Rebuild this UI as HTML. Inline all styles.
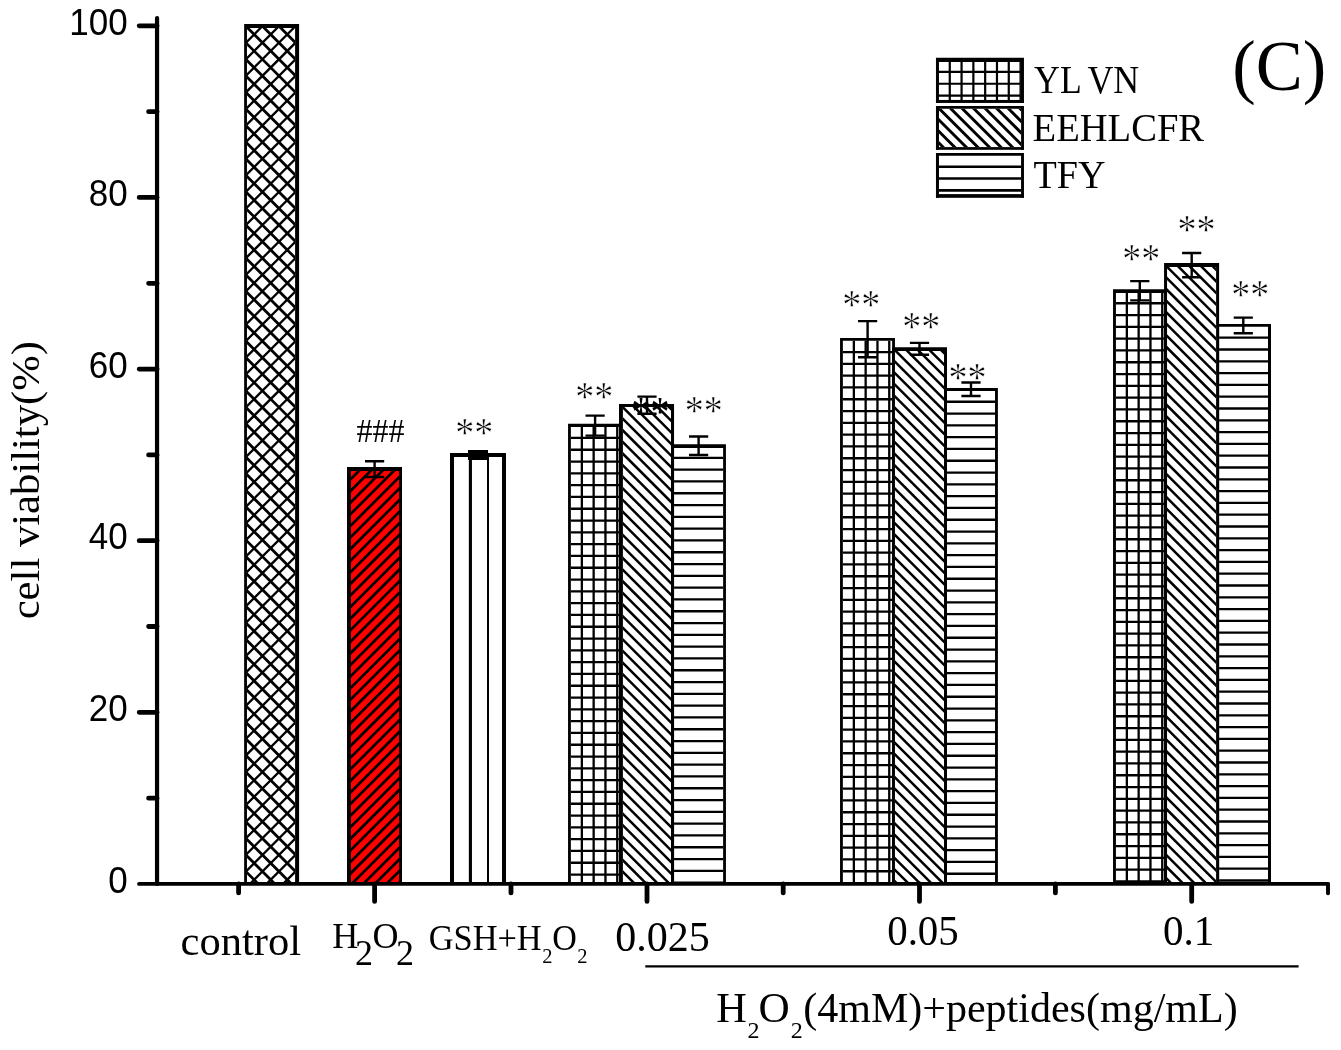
<!DOCTYPE html>
<html lang="en"><head><meta charset="utf-8"><title>Cell viability (C)</title>
<style>html,body{margin:0;padding:0;background:#fff}svg{display:block;will-change:transform}text{fill:#000;font-kerning:none}</style>
</head><body>
<svg width="1341" height="1050" viewBox="0 0 1341 1050"><defs><clipPath id="c1"><rect x="246.95" y="27.90" width="48.15" height="856.05"/></clipPath><clipPath id="c2"><rect x="350.90" y="470.90" width="48.20" height="413.05"/></clipPath><clipPath id="c3"><rect x="454.00" y="457.00" width="48.00" height="426.95"/></clipPath><clipPath id="c4"><rect x="570.86" y="426.97" width="48.14" height="456.98"/></clipPath><clipPath id="c5"><rect x="674.05" y="447.90" width="49.08" height="436.05"/></clipPath><clipPath id="c6"><rect x="622.90" y="407.10" width="48.10" height="476.85"/></clipPath><clipPath id="c7"><rect x="842.86" y="340.86" width="49.28" height="543.09"/></clipPath><clipPath id="c8"><rect x="947.00" y="391.00" width="48.03" height="492.95"/></clipPath><clipPath id="c9"><rect x="894.95" y="350.96" width="49.07" height="532.99"/></clipPath><clipPath id="c10"><rect x="1115.92" y="292.89" width="48.15" height="591.06"/></clipPath><clipPath id="c11"><rect x="1219.10" y="326.70" width="48.90" height="557.25"/></clipPath><clipPath id="c12"><rect x="1167.05" y="266.93" width="49.05" height="617.02"/></clipPath><clipPath id="c13"><rect x="938.97" y="61.93" width="81.09" height="38.02"/></clipPath><clipPath id="c14"><rect x="938.97" y="108.82" width="82.14" height="38.28"/></clipPath><clipPath id="c15"><rect x="938.97" y="155.87" width="82.09" height="38.24"/></clipPath></defs>
<rect x="245.95" y="26.90" width="50.15" height="857.05" fill="#fff"/>
<path clip-path="url(#c1)" d="M239.15 -63.42L304.10 1.53M239.15 -46.85L304.10 18.10M239.15 -30.27L304.10 34.68M239.15 -13.70L304.10 51.25M239.15 2.88L304.10 67.83M239.15 19.45L304.10 84.40M239.15 36.03L304.10 100.98M239.15 52.60L304.10 117.55M239.15 69.18L304.10 134.13M239.15 85.75L304.10 150.70M239.15 102.33L304.10 167.28M239.15 118.90L304.10 183.85M239.15 135.48L304.10 200.43M239.15 152.05L304.10 217.00M239.15 168.62L304.10 233.58M239.15 185.20L304.10 250.15M239.15 201.78L304.10 266.73M239.15 218.35L304.10 283.30M239.15 234.93L304.10 299.88M239.15 251.50L304.10 316.45M239.15 268.08L304.10 333.03M239.15 284.65L304.10 349.60M239.15 301.23L304.10 366.18M239.15 317.80L304.10 382.75M239.15 334.38L304.10 399.33M239.15 350.95L304.10 415.90M239.15 367.52L304.10 432.48M239.15 384.10L304.10 449.05M239.15 400.67L304.10 465.62M239.15 417.25L304.10 482.20M239.15 433.83L304.10 498.78M239.15 450.40L304.10 515.35M239.15 466.98L304.10 531.92M239.15 483.55L304.10 548.50M239.15 500.12L304.10 565.08M239.15 516.70L304.10 581.65M239.15 533.27L304.10 598.22M239.15 549.85L304.10 614.80M239.15 566.43L304.10 631.38M239.15 583.00L304.10 647.95M239.15 599.58L304.10 664.53M239.15 616.15L304.10 681.10M239.15 632.73L304.10 697.67M239.15 649.30L304.10 714.25M239.15 665.88L304.10 730.83M239.15 682.45L304.10 747.40M239.15 699.02L304.10 763.97M239.15 715.60L304.10 780.55M239.15 732.18L304.10 797.12M239.15 748.75L304.10 813.70M239.15 765.32L304.10 830.27M239.15 781.90L304.10 846.85M239.15 798.48L304.10 863.43M239.15 815.05L304.10 880.00M239.15 831.62L304.10 896.57M239.15 848.20L304.10 913.15M239.15 864.77L304.10 929.73M239.15 881.35L304.10 946.30" stroke="#000" stroke-width="2.80" fill="none"/>
<path clip-path="url(#c1)" d="M239.15 -0.35L304.10 -65.30M239.15 16.22L304.10 -48.73M239.15 32.80L304.10 -32.15M239.15 49.37L304.10 -15.58M239.15 65.95L304.10 1.00M239.15 82.52L304.10 17.57M239.15 99.10L304.10 34.15M239.15 115.67L304.10 50.72M239.15 132.25L304.10 67.30M239.15 148.82L304.10 83.87M239.15 165.40L304.10 100.45M239.15 181.97L304.10 117.02M239.15 198.55L304.10 133.60M239.15 215.12L304.10 150.17M239.15 231.70L304.10 166.75M239.15 248.27L304.10 183.32M239.15 264.85L304.10 199.90M239.15 281.43L304.10 216.48M239.15 298.00L304.10 233.05M239.15 314.57L304.10 249.62M239.15 331.15L304.10 266.20M239.15 347.73L304.10 282.77M239.15 364.30L304.10 299.35M239.15 380.88L304.10 315.92M239.15 397.45L304.10 332.50M239.15 414.02L304.10 349.07M239.15 430.60L304.10 365.65M239.15 447.18L304.10 382.23M239.15 463.75L304.10 398.80M239.15 480.32L304.10 415.37M239.15 496.90L304.10 431.95M239.15 513.48L304.10 448.52M239.15 530.05L304.10 465.10M239.15 546.62L304.10 481.67M239.15 563.20L304.10 498.25M239.15 579.77L304.10 514.82M239.15 596.35L304.10 531.40M239.15 612.93L304.10 547.98M239.15 629.50L304.10 564.55M239.15 646.07L304.10 581.12M239.15 662.65L304.10 597.70M239.15 679.23L304.10 614.27M239.15 695.80L304.10 630.85M239.15 712.37L304.10 647.42M239.15 728.95L304.10 664.00M239.15 745.52L304.10 680.57M239.15 762.10L304.10 697.15M239.15 778.68L304.10 713.73M239.15 795.25L304.10 730.30M239.15 811.82L304.10 746.87M239.15 828.40L304.10 763.45M239.15 844.98L304.10 780.02M239.15 861.55L304.10 796.60M239.15 878.12L304.10 813.17M239.15 894.70L304.10 829.75M239.15 911.27L304.10 846.32M239.15 927.85L304.10 862.90M239.15 944.43L304.10 879.48" stroke="#000" stroke-width="2.30" fill="none"/>
<path d="M244.15 883.95H246.95V27.90H295.10V883.95H299.10V23.90H244.15Z" fill="#000"/>
<rect x="349.90" y="469.90" width="50.20" height="414.05" fill="#ff0000"/>
<path clip-path="url(#c2)" d="M342.00 453.16L407.00 388.16M342.00 464.75L407.00 399.75M342.00 476.34L407.00 411.34M342.00 487.93L407.00 422.93M342.00 499.52L407.00 434.52M342.00 511.11L407.00 446.11M342.00 522.70L407.00 457.70M342.00 534.29L407.00 469.29M342.00 545.88L407.00 480.88M342.00 557.47L407.00 492.47M342.00 569.06L407.00 504.06M342.00 580.65L407.00 515.65M342.00 592.24L407.00 527.24M342.00 603.83L407.00 538.83M342.00 615.42L407.00 550.42M342.00 627.01L407.00 562.01M342.00 638.60L407.00 573.60M342.00 650.19L407.00 585.19M342.00 661.78L407.00 596.78M342.00 673.37L407.00 608.37M342.00 684.96L407.00 619.96M342.00 696.55L407.00 631.55M342.00 708.14L407.00 643.14M342.00 719.73L407.00 654.73M342.00 731.32L407.00 666.32M342.00 742.91L407.00 677.91M342.00 754.50L407.00 689.50M342.00 766.09L407.00 701.09M342.00 777.68L407.00 712.68M342.00 789.27L407.00 724.27M342.00 800.86L407.00 735.86M342.00 812.45L407.00 747.45M342.00 824.04L407.00 759.04M342.00 835.63L407.00 770.63M342.00 847.22L407.00 782.22M342.00 858.81L407.00 793.81M342.00 870.40L407.00 805.40M342.00 881.99L407.00 816.99M342.00 893.58L407.00 828.58M342.00 905.17L407.00 840.17M342.00 916.76L407.00 851.76M342.00 928.35L407.00 863.35M342.00 939.94L407.00 874.94M342.00 951.53L407.00 886.53" stroke="#000" stroke-width="2.70" fill="none"/>
<path d="M347.00 883.95H350.90V470.90H399.10V883.95H402.00V466.90H347.00Z" fill="#000"/>
<rect x="453.00" y="456.00" width="50.00" height="427.95" fill="#fff"/>
<path clip-path="url(#c3)" d="M470.40 453.00V883.95" stroke="#000" stroke-width="3.10" fill="none"/>
<path clip-path="url(#c3)" d="M488.00 453.00V883.95" stroke="#000" stroke-width="2.00" fill="none"/>
<path d="M450.00 883.95H454.00V457.00H502.00V883.95H506.00V453.00H450.00Z" fill="#000"/>
<rect x="569.86" y="425.97" width="50.14" height="457.98" fill="#fff"/>
<path clip-path="url(#c4)" d="M568.05 437.97H622.90M568.05 449.77H622.90M568.05 461.57H622.90M568.05 473.37H622.90M568.05 485.17H622.90M568.05 496.97H622.90M568.05 508.77H622.90M568.05 520.57H622.90M568.05 532.37H622.90M568.05 544.17H622.90M568.05 555.97H622.90M568.05 567.77H622.90M568.05 579.57H622.90M568.05 591.37H622.90M568.05 603.17H622.90M568.05 614.97H622.90M568.05 626.77H622.90M568.05 638.57H622.90M568.05 650.37H622.90M568.05 662.17H622.90M568.05 673.97H622.90M568.05 685.77H622.90M568.05 697.57H622.90M568.05 709.37H622.90M568.05 721.17H622.90M568.05 732.97H622.90M568.05 744.77H622.90M568.05 756.57H622.90M568.05 768.37H622.90M568.05 780.17H622.90M568.05 791.97H622.90M568.05 803.77H622.90M568.05 815.57H622.90M568.05 827.37H622.90M568.05 839.17H622.90M568.05 850.97H622.90M568.05 862.77H622.90M568.05 874.57H622.90M581.85 423.87V883.95M593.65 423.87V883.95M605.45 423.87V883.95M617.25 423.87V883.95" stroke="#000" stroke-width="2.30" fill="none"/>
<path d="M568.05 883.95H570.86V426.97H619.00V883.95H622.90V423.87H568.05Z" fill="#000"/>
<rect x="673.05" y="446.90" width="51.08" height="437.05" fill="#fff"/>
<path clip-path="url(#c5)" d="M671.00 457.84H725.93M671.00 469.64H725.93M671.00 481.44H725.93M671.00 493.24H725.93M671.00 505.04H725.93M671.00 516.84H725.93M671.00 528.64H725.93M671.00 540.44H725.93M671.00 552.24H725.93M671.00 564.04H725.93M671.00 575.84H725.93M671.00 587.64H725.93M671.00 599.44H725.93M671.00 611.24H725.93M671.00 623.04H725.93M671.00 634.84H725.93M671.00 646.64H725.93M671.00 658.44H725.93M671.00 670.24H725.93M671.00 682.04H725.93M671.00 693.84H725.93M671.00 705.64H725.93M671.00 717.44H725.93M671.00 729.24H725.93M671.00 741.04H725.93M671.00 752.84H725.93M671.00 764.64H725.93M671.00 776.44H725.93M671.00 788.24H725.93M671.00 800.04H725.93M671.00 811.84H725.93M671.00 823.64H725.93M671.00 835.44H725.93M671.00 847.24H725.93M671.00 859.04H725.93M671.00 870.84H725.93M671.00 882.64H725.93" stroke="#000" stroke-width="2.30" fill="none"/>
<path d="M671.00 883.95H674.05V447.90H723.13V883.95H725.93V444.14H671.00Z" fill="#000"/>
<rect x="621.90" y="406.10" width="50.10" height="477.85" fill="#fff"/>
<path clip-path="url(#c6)" d="M614.00 328.71L679.05 393.76M614.00 340.33L679.05 405.38M614.00 351.94L679.05 416.99M614.00 363.56L679.05 428.61M614.00 375.17L679.05 440.22M614.00 386.79L679.05 451.83M614.00 398.40L679.05 463.45M614.00 410.02L679.05 475.06M614.00 421.63L679.05 486.68M614.00 433.25L679.05 498.29M614.00 444.86L679.05 509.91M614.00 456.48L679.05 521.52M614.00 468.09L679.05 533.14M614.00 479.71L679.05 544.75M614.00 491.32L679.05 556.37M614.00 502.94L679.05 567.99M614.00 514.55L679.05 579.60M614.00 526.17L679.05 591.22M614.00 537.78L679.05 602.83M614.00 549.39L679.05 614.44M614.00 561.01L679.05 626.06M614.00 572.62L679.05 637.67M614.00 584.24L679.05 649.29M614.00 595.86L679.05 660.90M614.00 607.47L679.05 672.52M614.00 619.09L679.05 684.13M614.00 630.70L679.05 695.75M614.00 642.32L679.05 707.37M614.00 653.93L679.05 718.98M614.00 665.55L679.05 730.60M614.00 677.16L679.05 742.21M614.00 688.78L679.05 753.83M614.00 700.39L679.05 765.44M614.00 712.01L679.05 777.06M614.00 723.62L679.05 788.67M614.00 735.24L679.05 800.28M614.00 746.85L679.05 811.90M614.00 758.47L679.05 823.51M614.00 770.08L679.05 835.13M614.00 781.70L679.05 846.75M614.00 793.31L679.05 858.36M614.00 804.93L679.05 869.98M614.00 816.54L679.05 881.59M614.00 828.15L679.05 893.20M614.00 839.77L679.05 904.82M614.00 851.38L679.05 916.43M614.00 863.00L679.05 928.05M614.00 874.62L679.05 939.66M614.00 886.23L679.05 951.28" stroke="#000" stroke-width="2.50" fill="none"/>
<path d="M619.00 883.95H622.90V407.10H671.00V883.95H674.05V404.10H619.00Z" fill="#000"/>
<rect x="841.86" y="339.86" width="51.28" height="544.09" fill="#fff"/>
<path clip-path="url(#c7)" d="M840.05 352.04H894.95M840.05 363.84H894.95M840.05 375.64H894.95M840.05 387.44H894.95M840.05 399.24H894.95M840.05 411.04H894.95M840.05 422.84H894.95M840.05 434.64H894.95M840.05 446.44H894.95M840.05 458.24H894.95M840.05 470.04H894.95M840.05 481.84H894.95M840.05 493.64H894.95M840.05 505.44H894.95M840.05 517.24H894.95M840.05 529.04H894.95M840.05 540.84H894.95M840.05 552.64H894.95M840.05 564.44H894.95M840.05 576.24H894.95M840.05 588.04H894.95M840.05 599.84H894.95M840.05 611.64H894.95M840.05 623.44H894.95M840.05 635.24H894.95M840.05 647.04H894.95M840.05 658.84H894.95M840.05 670.64H894.95M840.05 682.44H894.95M840.05 694.24H894.95M840.05 706.04H894.95M840.05 717.84H894.95M840.05 729.64H894.95M840.05 741.44H894.95M840.05 753.24H894.95M840.05 765.04H894.95M840.05 776.84H894.95M840.05 788.64H894.95M840.05 800.44H894.95M840.05 812.24H894.95M840.05 824.04H894.95M840.05 835.84H894.95M840.05 847.64H894.95M840.05 859.44H894.95M840.05 871.24H894.95M853.85 337.94V883.95M865.65 337.94V883.95M877.45 337.94V883.95M889.25 337.94V883.95" stroke="#000" stroke-width="2.30" fill="none"/>
<path d="M840.05 883.95H842.86V340.86H892.14V883.95H894.95V337.94H840.05Z" fill="#000"/>
<rect x="946.00" y="390.00" width="50.03" height="493.95" fill="#fff"/>
<path clip-path="url(#c8)" d="M944.02 401.73H997.90M944.02 413.53H997.90M944.02 425.33H997.90M944.02 437.13H997.90M944.02 448.93H997.90M944.02 460.73H997.90M944.02 472.53H997.90M944.02 484.33H997.90M944.02 496.13H997.90M944.02 507.93H997.90M944.02 519.73H997.90M944.02 531.53H997.90M944.02 543.33H997.90M944.02 555.13H997.90M944.02 566.93H997.90M944.02 578.73H997.90M944.02 590.53H997.90M944.02 602.33H997.90M944.02 614.13H997.90M944.02 625.93H997.90M944.02 637.73H997.90M944.02 649.53H997.90M944.02 661.33H997.90M944.02 673.13H997.90M944.02 684.93H997.90M944.02 696.73H997.90M944.02 708.53H997.90M944.02 720.33H997.90M944.02 732.13H997.90M944.02 743.93H997.90M944.02 755.73H997.90M944.02 767.53H997.90M944.02 779.33H997.90M944.02 791.13H997.90M944.02 802.93H997.90M944.02 814.73H997.90M944.02 826.53H997.90M944.02 838.33H997.90M944.02 850.13H997.90M944.02 861.93H997.90M944.02 873.73H997.90" stroke="#000" stroke-width="2.30" fill="none"/>
<path d="M944.02 883.95H947.00V391.00H995.03V883.95H997.90V388.03H944.02Z" fill="#000"/>
<rect x="893.95" y="349.96" width="51.07" height="533.99" fill="#fff"/>
<path clip-path="url(#c9)" d="M887.14 273.04L952.00 337.90M887.14 284.59L952.00 349.45M887.14 296.14L952.00 361.00M887.14 307.69L952.00 372.55M887.14 319.24L952.00 384.10M887.14 330.79L952.00 395.65M887.14 342.34L952.00 407.20M887.14 353.89L952.00 418.75M887.14 365.44L952.00 430.30M887.14 376.99L952.00 441.85M887.14 388.54L952.00 453.40M887.14 400.09L952.00 464.95M887.14 411.64L952.00 476.50M887.14 423.19L952.00 488.05M887.14 434.74L952.00 499.60M887.14 446.29L952.00 511.15M887.14 457.84L952.00 522.70M887.14 469.39L952.00 534.25M887.14 480.94L952.00 545.80M887.14 492.49L952.00 557.35M887.14 504.04L952.00 568.90M887.14 515.59L952.00 580.45M887.14 527.14L952.00 592.00M887.14 538.69L952.00 603.55M887.14 550.24L952.00 615.10M887.14 561.79L952.00 626.65M887.14 573.34L952.00 638.20M887.14 584.89L952.00 649.75M887.14 596.44L952.00 661.30M887.14 607.99L952.00 672.85M887.14 619.54L952.00 684.40M887.14 631.09L952.00 695.95M887.14 642.64L952.00 707.50M887.14 654.19L952.00 719.05M887.14 665.74L952.00 730.60M887.14 677.29L952.00 742.15M887.14 688.84L952.00 753.70M887.14 700.39L952.00 765.25M887.14 711.94L952.00 776.80M887.14 723.49L952.00 788.35M887.14 735.04L952.00 799.90M887.14 746.59L952.00 811.45M887.14 758.14L952.00 823.00M887.14 769.69L952.00 834.55M887.14 781.24L952.00 846.10M887.14 792.79L952.00 857.65M887.14 804.34L952.00 869.20M887.14 815.89L952.00 880.75M887.14 827.44L952.00 892.30M887.14 838.99L952.00 903.85M887.14 850.54L952.00 915.40M887.14 862.09L952.00 926.95M887.14 873.64L952.00 938.50M887.14 885.19L952.00 950.05" stroke="#000" stroke-width="2.50" fill="none"/>
<path d="M892.14 883.95H894.95V350.96H944.02V883.95H947.00V347.14H892.14Z" fill="#000"/>
<rect x="1114.92" y="291.89" width="50.15" height="592.06" fill="#fff"/>
<path clip-path="url(#c10)" d="M1113.05 303.23H1167.05M1113.05 315.03H1167.05M1113.05 326.83H1167.05M1113.05 338.63H1167.05M1113.05 350.43H1167.05M1113.05 362.23H1167.05M1113.05 374.03H1167.05M1113.05 385.83H1167.05M1113.05 397.63H1167.05M1113.05 409.43H1167.05M1113.05 421.23H1167.05M1113.05 433.03H1167.05M1113.05 444.83H1167.05M1113.05 456.63H1167.05M1113.05 468.43H1167.05M1113.05 480.23H1167.05M1113.05 492.03H1167.05M1113.05 503.83H1167.05M1113.05 515.63H1167.05M1113.05 527.43H1167.05M1113.05 539.23H1167.05M1113.05 551.03H1167.05M1113.05 562.83H1167.05M1113.05 574.63H1167.05M1113.05 586.43H1167.05M1113.05 598.23H1167.05M1113.05 610.03H1167.05M1113.05 621.83H1167.05M1113.05 633.63H1167.05M1113.05 645.43H1167.05M1113.05 657.23H1167.05M1113.05 669.03H1167.05M1113.05 680.83H1167.05M1113.05 692.63H1167.05M1113.05 704.43H1167.05M1113.05 716.23H1167.05M1113.05 728.03H1167.05M1113.05 739.83H1167.05M1113.05 751.63H1167.05M1113.05 763.43H1167.05M1113.05 775.23H1167.05M1113.05 787.03H1167.05M1113.05 798.83H1167.05M1113.05 810.63H1167.05M1113.05 822.43H1167.05M1113.05 834.23H1167.05M1113.05 846.03H1167.05M1113.05 857.83H1167.05M1113.05 869.63H1167.05M1113.05 881.43H1167.05M1126.85 289.13V883.95M1138.65 289.13V883.95M1150.45 289.13V883.95M1162.25 289.13V883.95" stroke="#000" stroke-width="2.30" fill="none"/>
<path d="M1113.05 883.95H1115.92V292.89H1164.07V883.95H1167.05V289.13H1113.05Z" fill="#000"/>
<rect x="1218.10" y="325.70" width="50.90" height="558.25" fill="#fff"/>
<path clip-path="url(#c11)" d="M1216.10 337.70H1271.00M1216.10 349.50H1271.00M1216.10 361.30H1271.00M1216.10 373.10H1271.00M1216.10 384.90H1271.00M1216.10 396.70H1271.00M1216.10 408.50H1271.00M1216.10 420.30H1271.00M1216.10 432.10H1271.00M1216.10 443.90H1271.00M1216.10 455.70H1271.00M1216.10 467.50H1271.00M1216.10 479.30H1271.00M1216.10 491.10H1271.00M1216.10 502.90H1271.00M1216.10 514.70H1271.00M1216.10 526.50H1271.00M1216.10 538.30H1271.00M1216.10 550.10H1271.00M1216.10 561.90H1271.00M1216.10 573.70H1271.00M1216.10 585.50H1271.00M1216.10 597.30H1271.00M1216.10 609.10H1271.00M1216.10 620.90H1271.00M1216.10 632.70H1271.00M1216.10 644.50H1271.00M1216.10 656.30H1271.00M1216.10 668.10H1271.00M1216.10 679.90H1271.00M1216.10 691.70H1271.00M1216.10 703.50H1271.00M1216.10 715.30H1271.00M1216.10 727.10H1271.00M1216.10 738.90H1271.00M1216.10 750.70H1271.00M1216.10 762.50H1271.00M1216.10 774.30H1271.00M1216.10 786.10H1271.00M1216.10 797.90H1271.00M1216.10 809.70H1271.00M1216.10 821.50H1271.00M1216.10 833.30H1271.00M1216.10 845.10H1271.00M1216.10 856.90H1271.00M1216.10 868.70H1271.00M1216.10 880.50H1271.00" stroke="#000" stroke-width="2.30" fill="none"/>
<path d="M1216.10 883.95H1219.10V326.70H1268.00V883.95H1271.00V324.00H1216.10Z" fill="#000"/>
<rect x="1166.05" y="265.93" width="51.05" height="618.02" fill="#fff"/>
<path clip-path="url(#c12)" d="M1159.07 189.55L1224.10 254.58M1159.07 201.10L1224.10 266.13M1159.07 212.65L1224.10 277.68M1159.07 224.20L1224.10 289.23M1159.07 235.75L1224.10 300.78M1159.07 247.30L1224.10 312.33M1159.07 258.85L1224.10 323.88M1159.07 270.40L1224.10 335.43M1159.07 281.95L1224.10 346.98M1159.07 293.50L1224.10 358.53M1159.07 305.05L1224.10 370.08M1159.07 316.60L1224.10 381.63M1159.07 328.15L1224.10 393.18M1159.07 339.70L1224.10 404.73M1159.07 351.25L1224.10 416.28M1159.07 362.80L1224.10 427.83M1159.07 374.35L1224.10 439.38M1159.07 385.90L1224.10 450.93M1159.07 397.45L1224.10 462.48M1159.07 409.00L1224.10 474.03M1159.07 420.55L1224.10 485.58M1159.07 432.10L1224.10 497.13M1159.07 443.65L1224.10 508.68M1159.07 455.20L1224.10 520.23M1159.07 466.75L1224.10 531.78M1159.07 478.30L1224.10 543.33M1159.07 489.85L1224.10 554.88M1159.07 501.40L1224.10 566.43M1159.07 512.95L1224.10 577.98M1159.07 524.50L1224.10 589.53M1159.07 536.05L1224.10 601.08M1159.07 547.60L1224.10 612.63M1159.07 559.15L1224.10 624.18M1159.07 570.70L1224.10 635.73M1159.07 582.25L1224.10 647.28M1159.07 593.80L1224.10 658.83M1159.07 605.35L1224.10 670.38M1159.07 616.90L1224.10 681.93M1159.07 628.45L1224.10 693.48M1159.07 640.00L1224.10 705.03M1159.07 651.55L1224.10 716.58M1159.07 663.10L1224.10 728.13M1159.07 674.65L1224.10 739.68M1159.07 686.20L1224.10 751.23M1159.07 697.75L1224.10 762.78M1159.07 709.30L1224.10 774.33M1159.07 720.85L1224.10 785.88M1159.07 732.40L1224.10 797.43M1159.07 743.95L1224.10 808.98M1159.07 755.50L1224.10 820.53M1159.07 767.05L1224.10 832.08M1159.07 778.60L1224.10 843.63M1159.07 790.15L1224.10 855.18M1159.07 801.70L1224.10 866.73M1159.07 813.25L1224.10 878.28M1159.07 824.80L1224.10 889.83M1159.07 836.35L1224.10 901.38M1159.07 847.90L1224.10 912.93M1159.07 859.45L1224.10 924.48M1159.07 871.00L1224.10 936.03M1159.07 882.55L1224.10 947.58" stroke="#000" stroke-width="2.50" fill="none"/>
<path d="M1164.07 883.95H1167.05V266.93H1216.10V883.95H1219.10V263.05H1164.07Z" fill="#000"/>
<path d="M365.00 461.20H384.20M365.00 477.00H384.20" stroke="#000" stroke-width="2.40" fill="none"/>
<path d="M374.60 461.20V477.00" stroke="#000" stroke-width="2.40" fill="none"/>
<rect x="468" y="450" width="20" height="10" fill="#000"/>
<path d="M585.50 415.60H604.70M585.50 435.60H604.70" stroke="#000" stroke-width="2.40" fill="none"/>
<path d="M595.10 415.60V435.60" stroke="#000" stroke-width="2.40" fill="none"/>
<path d="M637.40 396.60H656.60M637.40 413.70H656.60" stroke="#000" stroke-width="2.40" fill="none"/>
<path d="M647.00 396.60V413.70" stroke="#000" stroke-width="2.40" fill="none"/>
<path d="M689.00 436.50H708.20M689.00 455.00H708.20" stroke="#000" stroke-width="2.40" fill="none"/>
<path d="M698.60 436.50V455.00" stroke="#000" stroke-width="2.40" fill="none"/>
<path d="M858.00 321.10H877.20M858.00 357.20H877.20" stroke="#000" stroke-width="2.40" fill="none"/>
<path d="M867.60 321.10V357.20" stroke="#000" stroke-width="2.40" fill="none"/>
<path d="M909.90 342.90H929.10M909.90 354.70H929.10" stroke="#000" stroke-width="2.40" fill="none"/>
<path d="M919.50 342.90V354.70" stroke="#000" stroke-width="2.40" fill="none"/>
<path d="M961.40 382.50H980.60M961.40 396.00H980.60" stroke="#000" stroke-width="2.40" fill="none"/>
<path d="M971.00 382.50V396.00" stroke="#000" stroke-width="2.40" fill="none"/>
<path d="M1130.20 281.10H1149.40M1130.20 300.40H1149.40" stroke="#000" stroke-width="2.40" fill="none"/>
<path d="M1139.80 281.10V300.40" stroke="#000" stroke-width="2.40" fill="none"/>
<path d="M1182.10 253.00H1201.30M1182.10 277.30H1201.30" stroke="#000" stroke-width="2.40" fill="none"/>
<path d="M1191.70 253.00V277.30" stroke="#000" stroke-width="2.40" fill="none"/>
<path d="M1233.70 317.60H1252.90M1233.70 333.20H1252.90" stroke="#000" stroke-width="2.40" fill="none"/>
<path d="M1243.30 317.60V333.20" stroke="#000" stroke-width="2.40" fill="none"/>
<path d="M157.05 18.1V883.95" stroke="#000" stroke-width="4.2" stroke-linecap="round" fill="none"/>
<path d="M139 883.95H1328.0" stroke="#000" stroke-width="3.8" stroke-linecap="round" fill="none"/>
<path d="M1328.0 883.95V893.2" stroke="#000" stroke-width="3.9" stroke-linecap="round" fill="none"/>
<path d="M139.2 25.85H157.05M148.6 111.66H157.05M139.2 197.47H157.05M148.6 283.28H157.05M139.2 369.09H157.05M148.6 454.90H157.05M139.2 540.71H157.05M148.6 626.52H157.05M139.2 712.33H157.05M148.6 798.14H157.05M374.60 883.95V901.4M647.00 883.95V901.4M919.50 883.95V901.4M1191.70 883.95V901.4M238.60 883.95V892.9M511.00 883.95V892.9M783.20 883.95V892.9M1055.40 883.95V892.9" stroke="#000" stroke-width="4.8" stroke-linecap="round" fill="none"/>
<text x="69.22" y="34.55" font-size="36.5" font-family="'Liberation Sans', sans-serif" textLength="58.38" lengthAdjust="spacingAndGlyphs">100</text>
<text x="88.68" y="206.17" font-size="36.5" font-family="'Liberation Sans', sans-serif" textLength="38.92" lengthAdjust="spacingAndGlyphs">80</text>
<text x="88.68" y="377.79" font-size="36.5" font-family="'Liberation Sans', sans-serif" textLength="38.92" lengthAdjust="spacingAndGlyphs">60</text>
<text x="88.68" y="549.41" font-size="36.5" font-family="'Liberation Sans', sans-serif" textLength="38.92" lengthAdjust="spacingAndGlyphs">40</text>
<text x="88.68" y="721.03" font-size="36.5" font-family="'Liberation Sans', sans-serif" textLength="38.92" lengthAdjust="spacingAndGlyphs">20</text>
<text x="108.14" y="892.65" font-size="36.5" font-family="'Liberation Sans', sans-serif" textLength="19.46" lengthAdjust="spacingAndGlyphs">0</text>
<text transform="translate(39.4 619.3) rotate(-90)" font-size="41" font-family="'Liberation Serif', serif" textLength="278.2" lengthAdjust="spacingAndGlyphs">cell viability(%)</text>
<text x="180.50" y="954.50" font-size="42" font-family="'Liberation Serif', serif" textLength="120.50" lengthAdjust="spacingAndGlyphs">control</text>
<text font-size="36" font-family="'Liberation Serif', serif"><tspan x="332.3" y="948">H</tspan><tspan x="355.1" y="964.8">2</tspan><tspan x="372.5" y="948">O</tspan><tspan x="396" y="964.8">2</tspan></text>
<text font-family="'Liberation Serif', serif"><tspan x="428.70" y="949.60" font-size="35" textLength="113.00" lengthAdjust="spacingAndGlyphs">GSH+H</tspan><tspan x="542.30" y="962.80" font-size="20.5">2</tspan><tspan x="552.20" y="949.60" font-size="35" textLength="24.60" lengthAdjust="spacingAndGlyphs">O</tspan><tspan x="577.20" y="962.80" font-size="20.5">2</tspan></text>
<text x="615.30" y="950.80" font-size="41.5" font-family="'Liberation Serif', serif" textLength="94.60" lengthAdjust="spacingAndGlyphs">0.025</text>
<text x="887.20" y="944.70" font-size="41.5" font-family="'Liberation Serif', serif" textLength="71.60" lengthAdjust="spacingAndGlyphs">0.05</text>
<text x="1163.10" y="944.80" font-size="41.5" font-family="'Liberation Serif', serif" textLength="51.30" lengthAdjust="spacingAndGlyphs">0.1</text>
<path d="M645.3 966.4H1298.6" stroke="#000" stroke-width="2.2" fill="none"/>
<text font-family="'Liberation Serif', serif"><tspan x="716.30" y="1021.80" font-size="43" textLength="30.60" lengthAdjust="spacingAndGlyphs">H</tspan><tspan x="747.60" y="1038.00" font-size="24">2</tspan><tspan x="758.40" y="1021.80" font-size="43" textLength="31.20" lengthAdjust="spacingAndGlyphs">O</tspan><tspan x="790.80" y="1038.00" font-size="24">2</tspan><tspan x="803.20" y="1021.80" font-size="43" textLength="434.50" lengthAdjust="spacingAndGlyphs">(4mM)+peptides(mg/mL)</tspan></text>
<rect x="937.97" y="60.93" width="83.09" height="40.02" fill="#fff"/>
<path clip-path="url(#c13)" d="M935.97 71.93H1023.96M935.97 83.73H1023.96M935.97 95.53H1023.96M949.77 57.83V102.95M961.57 57.83V102.95M973.37 57.83V102.95M985.17 57.83V102.95M996.97 57.83V102.95M1008.77 57.83V102.95M1020.57 57.83V102.95" stroke="#000" stroke-width="2.20" fill="none"/>
<path d="M935.97 102.95H938.97V61.93H1020.06V102.95H1023.96V57.83H935.97Z" fill="#000"/>
<rect x="935.97" y="99.95" width="87.99" height="3.00" fill="#000"/>
<rect x="937.97" y="107.82" width="84.14" height="40.28" fill="#fff"/>
<path clip-path="url(#c14)" d="M930.97 -3.58L1028.96 94.41M930.97 7.97L1028.96 105.96M930.97 19.52L1028.96 117.51M930.97 31.07L1028.96 129.06M930.97 42.62L1028.96 140.61M930.97 54.17L1028.96 152.16M930.97 65.72L1028.96 163.71M930.97 77.27L1028.96 175.26M930.97 88.82L1028.96 186.81M930.97 100.37L1028.96 198.36M930.97 111.92L1028.96 209.91M930.97 123.47L1028.96 221.46M930.97 135.02L1028.96 233.01M930.97 146.57L1028.96 244.56" stroke="#000" stroke-width="2.90" fill="none"/>
<path d="M935.97 149.80H938.97V108.82H1021.11V149.80H1023.96V105.97H935.97Z" fill="#000"/>
<rect x="935.97" y="147.10" width="87.99" height="2.70" fill="#000"/>
<rect x="937.97" y="154.87" width="84.09" height="40.24" fill="#fff"/>
<path clip-path="url(#c15)" d="M935.97 166.77H1023.96M935.97 178.57H1023.96M935.97 190.37H1023.96" stroke="#000" stroke-width="2.60" fill="none"/>
<path d="M935.97 197.81H938.97V155.87H1021.06V197.81H1023.96V153.07H935.97Z" fill="#000"/>
<rect x="935.97" y="194.11" width="87.99" height="3.70" fill="#000"/>
<text font-size="40" y="93.3" font-family="'Liberation Serif', serif"><tspan x="1034.1" textLength="47.6" lengthAdjust="spacingAndGlyphs">YL</tspan><tspan x="1087.4" textLength="51.8" lengthAdjust="spacingAndGlyphs">VN</tspan></text>
<text x="1032.60" y="141.00" font-size="40" font-family="'Liberation Serif', serif" textLength="171.50" lengthAdjust="spacingAndGlyphs">EEHLCFR</text>
<text x="1033.60" y="188.00" font-size="40" font-family="'Liberation Serif', serif" textLength="72.00" lengthAdjust="spacingAndGlyphs">TFY</text>
<text x="1232.30" y="90.00" font-size="72" font-family="'Liberation Serif', serif" textLength="94.00" lengthAdjust="spacingAndGlyphs">(C)</text>
<text x="356.60" y="441.90" font-size="33.5" font-family="'Liberation Serif', serif" textLength="48.00" lengthAdjust="spacingAndGlyphs">###</text>
<text x="455.20" y="447.40" font-size="42" font-family="'Liberation Serif', serif" textLength="38.00" lengthAdjust="spacingAndGlyphs" stroke="#fff" stroke-width="0.5">**</text>
<text x="575.30" y="411.45" font-size="42" font-family="'Liberation Serif', serif" textLength="38.00" lengthAdjust="spacingAndGlyphs" stroke="#fff" stroke-width="0.5">**</text>
<text x="631.40" y="426.40" font-size="42" font-family="'Liberation Serif', serif" textLength="38.00" lengthAdjust="spacingAndGlyphs">**</text>
<text x="684.75" y="424.60" font-size="42" font-family="'Liberation Serif', serif" textLength="38.00" lengthAdjust="spacingAndGlyphs" stroke="#fff" stroke-width="0.5">**</text>
<text x="842.35" y="318.60" font-size="42" font-family="'Liberation Serif', serif" textLength="38.00" lengthAdjust="spacingAndGlyphs" stroke="#fff" stroke-width="0.5">**</text>
<text x="902.37" y="340.67" font-size="42" font-family="'Liberation Serif', serif" textLength="38.00" lengthAdjust="spacingAndGlyphs" stroke="#fff" stroke-width="0.5">**</text>
<text x="948.40" y="391.50" font-size="42" font-family="'Liberation Serif', serif" textLength="38.00" lengthAdjust="spacingAndGlyphs" stroke="#fff" stroke-width="0.5">**</text>
<text x="1122.37" y="273.46" font-size="42" font-family="'Liberation Serif', serif" textLength="38.00" lengthAdjust="spacingAndGlyphs" stroke="#fff" stroke-width="0.5">**</text>
<text x="1177.40" y="243.60" font-size="42" font-family="'Liberation Serif', serif" textLength="38.00" lengthAdjust="spacingAndGlyphs" stroke="#fff" stroke-width="0.5">**</text>
<text x="1231.20" y="308.54" font-size="42" font-family="'Liberation Serif', serif" textLength="38.00" lengthAdjust="spacingAndGlyphs" stroke="#fff" stroke-width="0.5">**</text>
</svg>
</body></html>
